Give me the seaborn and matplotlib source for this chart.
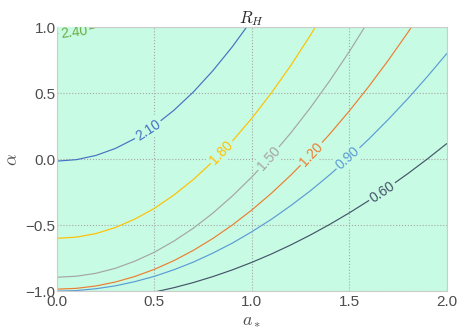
import numpy as np
import pandas as pd
import matplotlib
matplotlib.use("Agg")
import matplotlib.pyplot as plt
import seaborn as sns

# contour lines of R_H: alpha at each a_* along every level
a_star = [0.0, 0.1, 0.2, 0.3, 0.4, 0.5, 0.6, 0.7, 0.8, 0.9, 1.0,
          1.1, 1.2, 1.3, 1.4, 1.5, 1.6, 1.7, 1.8, 1.9, 2.0]
levels = ["0.60", "0.90", "1.20", "1.50", "1.80", "2.10", "2.40"]

# 0.60 starts at a_* = 0.5, the others at a_* = 0
alpha_060 = [-1.007, -0.974, -0.935, -0.890, -0.839, -0.782, -0.719, -0.650, -0.575,
             -0.494, -0.407, -0.314, -0.215, -0.110, 0.001, 0.118]
alpha_090 = [-1.000, -0.996, -0.982, -0.960, -0.928, -0.888, -0.838, -0.780, -0.712,
             -0.636, -0.550, -0.456, -0.352, -0.240, -0.118, 0.013, 0.152, 0.301,
             0.458, 0.625, 0.800]
alpha_120 = [-0.985, -0.979, -0.961, -0.931, -0.889, -0.835, -0.769, -0.691, -0.601,
             -0.499, -0.385, -0.259, -0.121, 0.029, 0.191, 0.365, 0.551, 0.749,
             0.959, 1.181]
alpha_150 = [-0.895, -0.887, -0.865, -0.827, -0.773, -0.705, -0.621, -0.523, -0.409,
             -0.279, -0.135, 0.025, 0.199, 0.389, 0.595, 0.815, 1.051]
alpha_180 = [-0.600, -0.591, -0.564, -0.518, -0.454, -0.373, -0.272, -0.154, -0.018,
             0.137, 0.310, 0.501, 0.710, 0.938, 1.184]
alpha_210 = [-0.015, -0.004, 0.028, 0.081, 0.156, 0.253, 0.370, 0.509, 0.670, 0.852, 1.055]
alpha_240 = [0.950, 0.962, 0.998, 1.058]

colors = ["#44546A", "#5B9BD5", "#ED7D31", "#A5A5A5", "#FFC000", "#4472C4", "#70AD47"]
bg = "#c8fbe3"
# a_* where each level's label sits
label_a = [1.668, 1.494, 1.306, 1.087, 0.845, 0.467, 0.087]

curves = [(a_star[5:], alpha_060), (a_star, alpha_090),
          (a_star[:len(alpha_120)], alpha_120), (a_star[:len(alpha_150)], alpha_150),
          (a_star[:len(alpha_180)], alpha_180), (a_star[:len(alpha_210)], alpha_210),
          (a_star[:len(alpha_240)], alpha_240)]

df = pd.concat([pd.DataFrame({"a": x, "alpha": y, "level": lev})
                for lev, (x, y) in zip(levels, curves)])

sns.set_style("whitegrid", {"grid.linestyle": ":", "grid.color": ".65",
                            "axes.edgecolor": ".8", "axes.facecolor": bg})
plt.rcParams["font.family"] = ["Liberation Sans", "DejaVu Sans"]
plt.rcParams["mathtext.fontset"] = "cm"

fig, ax = plt.subplots(figsize=(4.63, 3.35), dpi=100)
fig.subplots_adjust(left=0.123, right=0.965, top=0.919, bottom=0.131)
sns.lineplot(data=df, x="a", y="alpha", hue="level", palette=colors, estimator=None,
             linewidth=0.85, legend=False, ax=ax)

ax.set_xlim(0, 2)
ax.set_ylim(-1, 1)
ax.set_xticks([0, 0.5, 1.0, 1.5, 2.0])
ax.set_yticks([-1.0, -0.5, 0.0, 0.5, 1.0])
ax.tick_params(labelsize=11, colors=".3", length=0)
ax.tick_params(axis="x", pad=3)
ax.tick_params(axis="y", pad=1)
ax.set_xlabel("$a_*$", fontsize=13, color=".3", labelpad=2)
ax.set_ylabel(r"$\alpha$", fontsize=13, color=".3", labelpad=3)
ax.set_title("$R_H$", fontsize=12, pad=3)

# inline labels, rotated along the line
for lev, (x, y), la, col in zip(levels, curves, label_a, colors):
    p0 = ax.transData.transform((la - 0.03, np.interp(la - 0.03, x, y)))
    p1 = ax.transData.transform((la + 0.03, np.interp(la + 0.03, x, y)))
    ang = np.degrees(np.arctan2(p1[1] - p0[1], p1[0] - p0[0]))
    ax.text(la, np.interp(la, x, y), lev, color=col, fontsize=10, rotation=ang,
            rotation_mode="anchor", ha="center", va="center", zorder=3, clip_on=True,
            bbox=dict(boxstyle="square,pad=0.15", fc=bg, ec="none"))

fig.savefig("out.png", dpi=100)
